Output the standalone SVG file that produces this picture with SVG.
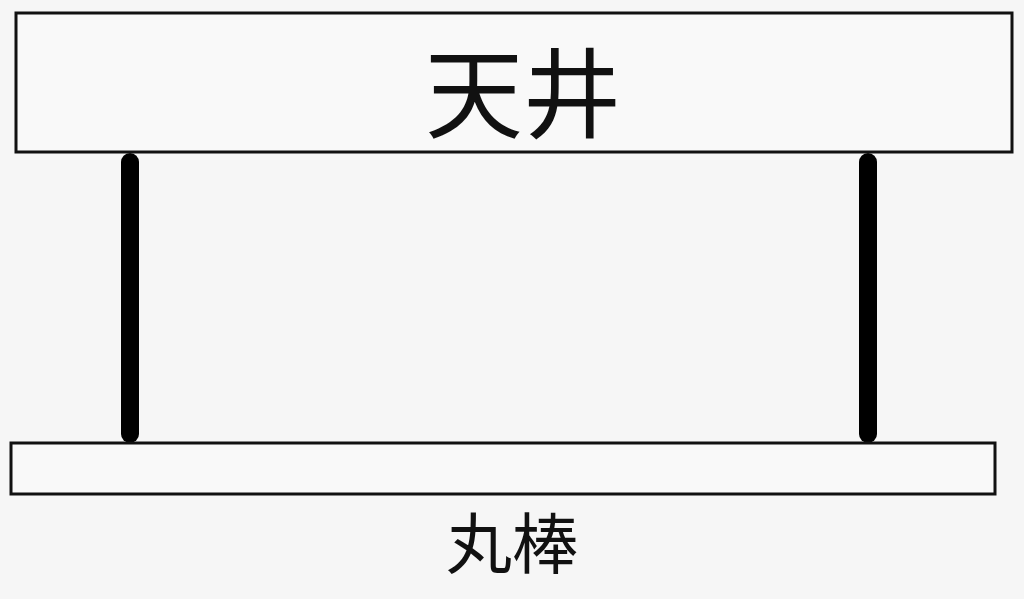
<svg xmlns="http://www.w3.org/2000/svg" width="1024" height="599" viewBox="0 0 1024 599">
<style>
.box{fill:#f9f9f9;stroke:#111;stroke-width:3}
.post{stroke:#000;stroke-width:18;stroke-linecap:round}
.t{font-family:"Noto Sans CJK JP","Noto Sans CJK SC",sans-serif;fill:#111;text-anchor:middle}
</style>
<rect width="1024" height="599" fill="#f6f6f6"/>
<g id="connectors">
<line class="post" x1="130" y1="162" x2="130" y2="434"/>
<line class="post" x1="868" y1="162" x2="868" y2="434"/>
</g>
<g id="ceiling">
<rect class="box" x="16" y="13" width="996" height="139"/>
<text class="t" x="523" y="130" font-size="98">天井</text>
</g>
<g id="rod">
<rect class="box" x="11" y="443" width="984" height="51"/>
<text class="t" x="512" y="568" font-size="66">丸棒</text>
</g>
</svg>
